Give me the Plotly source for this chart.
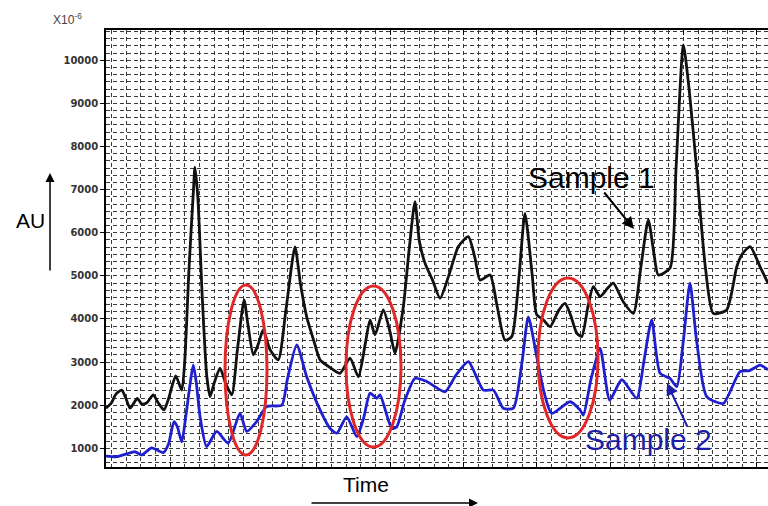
import plotly.graph_objects as go

# ---- data (time in arbitrary units, AU x10^-6) ----
s1_time = [0.64, 1.0, 1.3, 1.71, 2.0, 2.27, 2.5, 2.77, 3.07, 3.4, 3.86, 4.2, 4.59, 4.9, 5.39, 5.8,
           6.0, 6.3, 6.6, 6.7, 6.9, 7.2, 7.5, 7.73, 8.0, 8.41, 8.8, 9.21, 9.6, 10.05, 10.3, 10.68,
           11.0, 11.36, 11.8, 12.38, 12.9, 13.52, 13.9, 14.32, 14.8, 15.23, 15.8, 16.59, 17.27,
           17.84, 18.3, 18.64, 18.98, 19.54, 20.0, 20.34, 20.91, 21.3, 21.7, 22.0, 22.39, 22.9,
           23.41, 24.0, 24.66, 25.34, 25.8, 26.14, 26.82, 27.3, 27.84, 28.3, 28.8, 29.2, 29.7,
           30.0, 30.45, 30.91, 31.5, 31.93, 32.3, 32.73, 33.07, 33.5, 33.86, 34.32, 34.8, 35.22,
           35.9, 36.59, 37.1, 37.61, 38.0, 38.29, 39.09, 39.5, 40.0, 40.4, 40.91, 41.5, 42.04,
           42.95, 43.64, 44.0, 44.55, 45.23, 45.77]
s1_vals = [1930, 2050, 2250, 2350, 2150, 1930, 2030, 2160, 2030, 2050, 2240, 2050, 1890, 2150, 2680, 2350,
           3000, 5200, 7000, 7520, 6800, 4500, 2700, 2200, 2500, 2860, 2500, 2240, 3300, 4440, 3900, 3170,
           3400, 3750, 3300, 3050, 4200, 5670, 4800, 4050, 3500, 3050, 2900, 2740, 3090,
           2660, 3400, 3980, 3630, 4210, 3700, 3200, 4290, 5600, 6720, 5800, 5290, 4900,
           4480, 5000, 5680, 5910, 5400, 4900, 5020, 4300, 3510, 3590, 5000, 6450, 5000,
           4100, 3980, 3820, 4200, 4360, 4100, 3670, 3590, 4300, 4750, 4520, 4700, 4830,
           4400, 4130, 5200, 6300, 5500, 5020, 5180, 7500, 10360, 9300, 7460, 5200, 4130,
           4210, 5210, 5500, 5680, 5210, 4830]

s2_time = [0.64, 1.37, 2.05, 2.61, 3.07, 3.75, 4.54, 4.9, 5.27, 5.5, 5.8, 6.1, 6.59, 6.8, 7.05, 7.5,
           8.18, 8.97, 9.77, 10.23, 10.91, 11.59, 12.62, 13.0, 13.64, 14.32, 15.23, 15.91, 16.37,
           17.05, 17.73, 18.2, 18.64, 19.09, 19.32, 20.12, 20.46, 21.0, 21.7, 22.5, 23.75, 24.5,
           25.34, 26.36, 27.05, 27.72, 28.41, 29.0, 29.43, 30.0, 30.5, 31.02, 32.27, 32.95, 33.18,
           33.7, 34.32, 34.98, 35.8, 36.82, 37.3, 37.84, 38.41, 39.09, 39.55, 40.0, 40.45, 40.9,
           41.59, 42.72, 43.86, 44.5, 45.23, 45.77]
s2_vals = [820, 805, 870, 920, 845, 1010, 900, 1100, 1620, 1500, 1150, 1800, 2930, 2500, 1730, 1040,
           1390, 1120, 1810, 1390, 1620, 1970, 2000, 2600, 3400, 2660, 1890, 1460, 1350,
           1730, 1270, 1700, 2280, 2160, 2240, 1460, 1500, 2100, 2620, 2550, 2310, 2700,
           3010, 2350, 2350, 1930, 1930, 3000, 4050, 3130, 2300, 1810, 2080, 1890, 1770,
           2600, 3320, 2120, 2590, 2160, 3000, 3980, 2740, 2620, 2430, 3500, 4830, 3500,
           2200, 2040, 2780, 2800, 2930, 2820]

y_tick_vals = [1000, 2000, 3000, 4000, 5000, 6000, 7000, 8000, 9000, 10000]
y_tick_text = ["1000", "2000", "3000", "4000", "5000", "6000", "7000", "8000", "9000", "10000"]

W, H = 768, 506
L, R, T, B = 106, 0, 30, 39
PW, PH = W - L - R, H - T - B


def px(x):
    return (x - L) / PW


def py(y):
    return (H - B - y) / PH


fig = go.Figure()
fig.add_trace(go.Scatter(x=s1_time, y=s1_vals, mode="lines", name="Sample 1",
                         line=dict(color="#111111", width=2.8, shape="spline", smoothing=0.6)))
fig.add_trace(go.Scatter(x=s2_time, y=s2_vals, mode="lines", name="Sample 2",
                         line=dict(color="#1f1fd0", width=2.8, shape="spline", smoothing=0.6)))

GC = "#3a3a3a"
GD = "4px,3px"
grid = dict(showgrid=True, gridcolor=GC, gridwidth=1, griddash=GD)

fig.update_xaxes(range=[0.636, 45.77], tick0=0, dtick=5, showticklabels=False,
                 ticks="inside", ticklen=5, tickcolor="black",
                 showline=True, linecolor="black", linewidth=1.5, mirror="ticks",
                 zeroline=False,
                 minor=dict(dtick=1, tick0=0, showgrid=True, gridcolor=GC,
                            gridwidth=1, griddash=GD),
                 **grid)
fig.update_yaxes(range=[566, 10703], tickvals=y_tick_vals, ticktext=y_tick_text,
                 ticks="outside", ticklen=4, tickcolor="black",
                 tickfont=dict(family="DejaVu Sans", size=10, color="#333333", weight="bold"),
                 showline=True, linecolor="black", linewidth=1.5, mirror=True,
                 zeroline=False,
                 minor=dict(dtick=1000 / 6, tick0=1000, showgrid=True, gridcolor=GC,
                            gridwidth=1, griddash=GD),
                 **grid)

ann = []
ann.append(dict(text="X10<sup>-6</sup>", x=px(51), y=py(19), xanchor="left", yanchor="middle",
                showarrow=False, font=dict(family="Liberation Sans", size=12, color="#444444")))
ann.append(dict(text="AU", x=px(30), y=py(220), xanchor="center", yanchor="middle",
                showarrow=False, font=dict(family="Liberation Sans", size=21, color="black")))
ann.append(dict(text="Time", x=px(366), y=py(484), xanchor="center", yanchor="middle",
                showarrow=False, font=dict(family="Liberation Sans", size=21, color="black")))
ann.append(dict(text="Sample 1", x=px(591), y=py(177), xanchor="center", yanchor="middle",
                showarrow=False, font=dict(family="Liberation Sans", size=30, color="black")))
ann.append(dict(text="Sample 2", x=px(648), y=py(439), xanchor="center", yanchor="middle",
                showarrow=False, font=dict(family="Liberation Sans", size=30, color="#1e1ea8")))
# arrows (head at x,y; tail offset in pixels)
arrows = [
    (50, 173, 50, 272, "black", 1.5),
    (478, 503, 310, 503, "black", 1.5),
    (634, 229, 603, 191, "black", 2),
    (667, 383, 688, 428, "#1e1ea8", 2),
]
for hx, hy, tx, ty, c, w in arrows:
    ann.append(dict(text="", x=px(hx), y=py(hy), xref="paper", yref="paper",
                    ax=tx - hx, ay=ty - hy, axref="pixel", ayref="pixel",
                    showarrow=True, arrowhead=2, arrowsize=1.2, arrowwidth=w, arrowcolor=c))
for a in ann:
    a.setdefault("xref", "paper")
    a.setdefault("yref", "paper")

shapes = []
for x0, x1, y0, y1 in [(225, 267, 285, 455), (346, 401, 286, 447), (538, 598, 278, 438)]:
    shapes.append(dict(type="circle", xref="paper", yref="paper",
                       x0=px(x0), x1=px(x1), y0=py(y1), y1=py(y0),
                       line=dict(color="#e02828", width=3)))

fig.update_layout(width=W, height=H, margin=dict(l=L, r=R, t=T, b=B, autoexpand=False),
                  paper_bgcolor="white", plot_bgcolor="white", showlegend=False,
                  annotations=ann, shapes=shapes)

fig.write_html("out.html", config={"displayModeBar": False},
               post_script="document.body.style.margin='0';document.body.style.overflow='hidden';")
